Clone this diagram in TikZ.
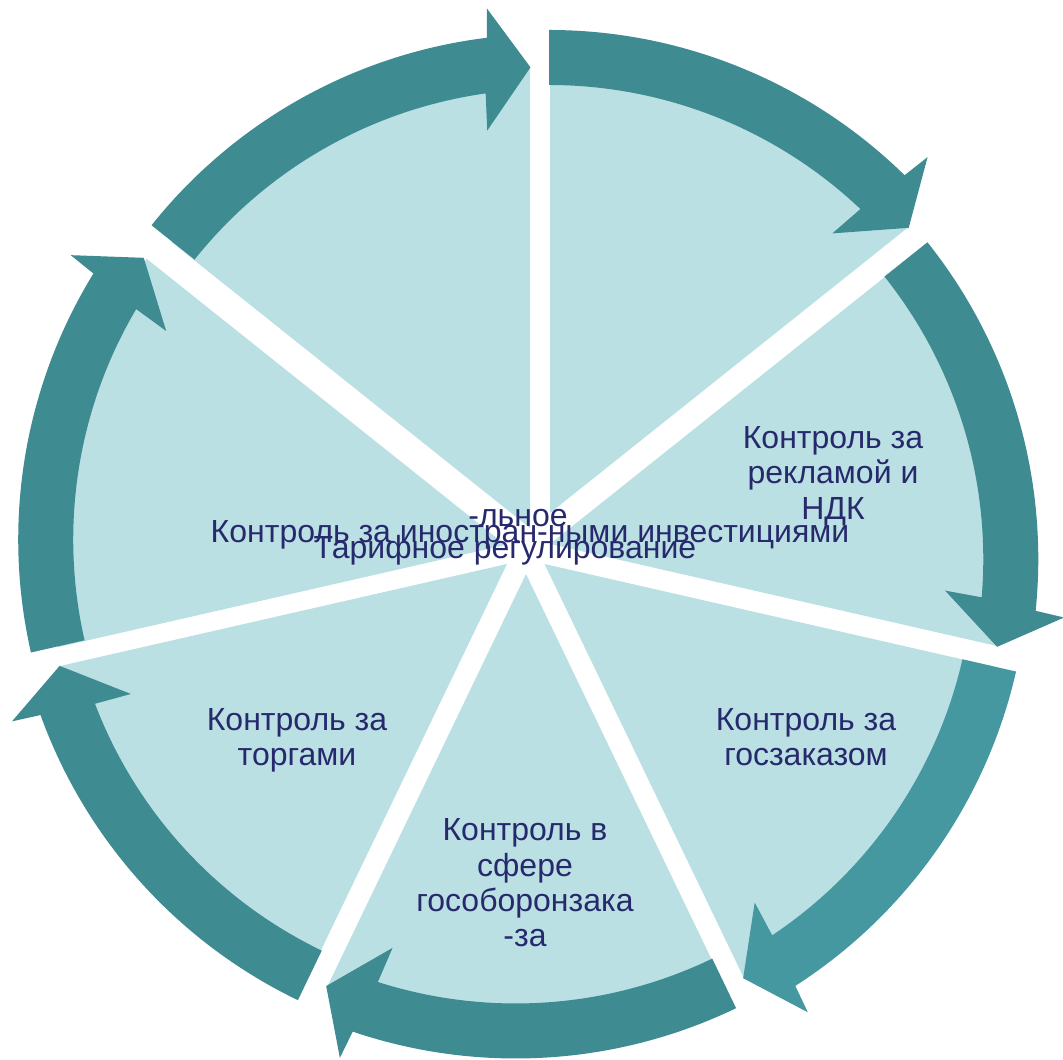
\documentclass[tikz,border=0pt]{standalone}
\usepackage{fontspec}
\setmainfont{Liberation Sans}
\definecolor{slicecol}{HTML}{BBE0E3}
\definecolor{arrowcol}{HTML}{3E8B91}
\definecolor{arrowlight}{HTML}{4698A0}
\definecolor{lblcol}{HTML}{27296D}

\begin{document}
\begin{tikzpicture}[x=1pt,y=1pt]
	\tikzset{
	  slice/.style={fill=slicecol},
	  lbl/.style={text=lblcol,align=center,inner sep=0pt,font=\fontsize{32}{35.3}\selectfont}
	}
	\useasboundingbox (0,0) rectangle (1063,1060);
	%SLICES
	\foreach \k/\ax/\ay in {0/550/547,1/550/516,2/544.5/496,3/526/486,4/507/496,5/505.5/515,6/530/532}{
	  \pgfmathsetmacro{\ta}{90-51.4286*\k}
	  \pgfmathsetmacro{\tb}{\ta-51.4286}
	  \fill[slice] (\ax,\ay) -- ++(\ta:459) arc[start angle=\ta,end angle=\tb,radius=459] -- cycle;
	}
	%RING ARROWS
	\foreach \k/\cx/\cy/\col in {0/549/522/arrowcol,1/530.3/501/arrowcol,2/520.8/501.5/arrowlight,3/515.7/509.5/arrowcol,4/518.3/517.5/arrowcol,5/526.2/520.5/arrowcol,6/548.7/518/arrowcol}{
	  \pgfmathsetmacro{\ta}{90-51.4286*\k}
	  \pgfmathsetmacro{\tb}{\ta-51.4286}
	  \pgfmathsetmacro{\tshaft}{\tb+7}
	  \pgfmathsetmacro{\tin}{\tb+8}
	  \pgfmathsetmacro{\twout}{\tb+6.6}
	  \pgfmathsetmacro{\twin}{\tb+8.5}
	  \pgfmathsetmacro{\ttip}{\tb+2.2}
	  \begin{scope}[shift={(\cx,\cy)}]
	    \fill[\col] (\ta:508) arc[start angle=\ta,end angle=\tshaft,radius=508]
	      -- (\twout:537) -- (\ttip:475) -- (\twin:416) -- (\tin:453)
	      arc[start angle=\tin,end angle=\ta,radius=453] -- cycle;
	  \end{scope}
	}
	%LABELS
	\node[lbl] (reklama) at (833,584) {Контроль за\\рекламой и\\НДК};
	\node[lbl] (goszakaz) at (806,323) {Контроль за\\госзаказом};
	\node[lbl] (gosoboron) at (525,177) {Контроль в\\сфере\\гособоронзака\\-за};
	\node[lbl] (torgi) at (297,320) {Контроль за\\торгами};
	%CENTRE
	\node[lbl,anchor=base] (antimon) at (518,533) {-льное};
	\node[lbl,anchor=base] (invest) at (530,517) {Контроль за иностран-ными инвестициями};
	\node[lbl,anchor=base] (tarif) at (505,501) {Тарифное регулирование};
\end{tikzpicture}
\end{document}
